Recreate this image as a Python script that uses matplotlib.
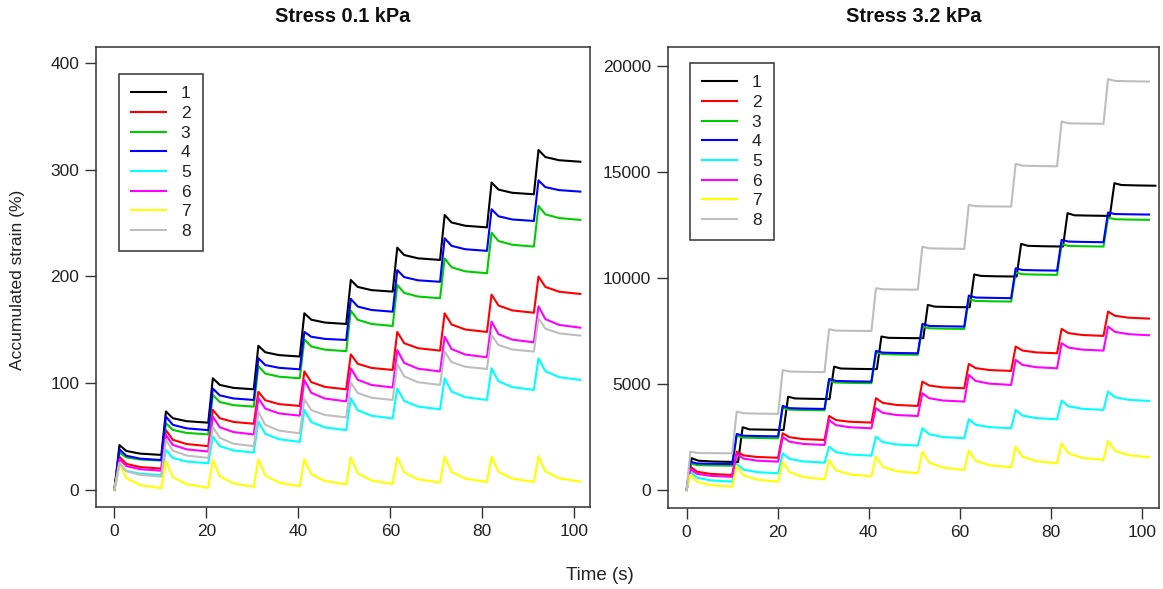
import matplotlib
matplotlib.use("Agg")
import matplotlib.pyplot as plt

plt.rcParams['font.family'] = ['Liberation Sans', 'DejaVu Sans']

labels = ['1', '2', '3', '4', '5', '6', '7', '8']
colors = ['black', '#FF0000', '#00CD00', '#0000FF', '#00FFFF', '#FF00FF', '#FFFF00', '#BEBEBE']

# ---- Stress 0.1 kPa
# per cycle: peak, value ~1.5 s after peak, value ~4.5 s after peak, value before next load
left_peak_t = [1.1, 11.2, 21.4, 31.3, 41.3, 51.4, 61.5, 71.8, 82.0, 92.2]
left_t_last = 101.3

left_peaks = [
    [42, 73.5, 104.6, 135, 165.5, 196.7, 227, 257.6, 288, 318.5],
    [31, 56, 75, 92, 111, 127, 148, 165.5, 183, 200],
    [35, 62.5, 89, 116, 141, 168, 192, 217, 241, 266],
    [38, 68.7, 95, 123.4, 148, 179, 206, 235.8, 263, 290],
    [23.4, 37.5, 50, 64, 75, 86, 95, 104.6, 114, 123.4],
    [28.7, 51.5, 68.7, 86, 103, 114, 131, 143.6, 157.7, 172],
    [25, 27, 28, 28.5, 28.7, 30.6, 30.6, 31.2, 31.2, 31.5],
    [25, 47, 59, 73, 85, 100.5, 118, 129.6, 145, 160.8],
]
left_knee_a = [
    [36.5, 67.2, 98.4, 129, 159.5, 190.2, 220.1, 250.6, 281.4, 311.9],
    [24.4, 47, 67.2, 84, 101, 118.2, 137.5, 155, 172.8, 190.2],
    [30.5, 56.2, 82.4, 109, 134.4, 159.4, 184.6, 208.6, 233.2, 258.2],
    [32, 61, 88.6, 117, 143.5, 171.8, 199.4, 228.7, 256.4, 283.7],
    [17.8, 30, 41, 52.6, 63.6, 74.6, 83.4, 92.2, 101.8, 111.2],
    [22.3, 42.2, 58.7, 76.2, 91, 103.2, 119, 132, 146, 160],
    [11, 12, 12.9, 13.6, 14.7, 15.6, 16.4, 17, 17, 17.3],
    [17.5, 36.8, 48.8, 61, 74.8, 90.8, 106.4, 119.8, 135.8, 151.1],
]
left_knee_b = [
    [34.0, 64.4, 95.6, 126.3, 156.8, 187.2, 217.0, 247.5, 278.4, 308.9],
    [21.4, 43.0, 63.7, 80.4, 96.5, 114.3, 132.8, 150.3, 168.2, 185.7],
    [28.5, 53.4, 79.4, 106.1, 131.4, 155.5, 181.2, 204.8, 229.7, 254.7],
    [29.3, 57.7, 85.7, 114.4, 141.5, 168.6, 196.4, 225.5, 253.4, 280.9],
    [15.2, 26.6, 37.0, 47.5, 58.5, 69.5, 78.1, 86.9, 96.3, 105.7],
    [19.4, 38.0, 54.2, 71.7, 85.6, 98.3, 113.6, 126.8, 140.8, 154.6],
    [4.6, 5.3, 6.1, 6.8, 8.3, 8.9, 10.0, 10.6, 10.6, 10.9],
    [14.1, 32.2, 43.3, 55.6, 70.2, 86.4, 100.9, 115.4, 131.6, 146.7],
]
left_ends = [
    [32.8, 63, 94.3, 125, 155.5, 185.8, 215.5, 246, 277, 307.5],
    [20, 41, 62, 78.7, 94.3, 112.4, 130.5, 148, 166, 183.6],
    [27.5, 52, 78, 104.6, 130, 153.6, 179.6, 203, 228, 253],
    [28, 56, 84.3, 113, 140.5, 167, 195, 224, 252, 279.5],
    [14, 25, 35, 45, 56, 67, 75.6, 84.3, 93.7, 103],
    [18, 36, 52, 69.6, 83, 96, 111, 124.3, 138.3, 152],
    [1.6, 2, 2.8, 3.6, 5.3, 5.6, 6.9, 7.5, 7.5, 7.8],
    [12.5, 30, 41, 53, 68, 84.3, 98.4, 113.3, 129.6, 144.6],
]

# ---- Stress 3.2 kPa (curve 1 is loaded about 1 s later in each cycle)
right_peak_t = [0.8, 11.0, 21.1, 31.3, 41.6, 51.8, 62.0, 72.3, 82.4, 92.6]
right_peak_t_1 = [1.1, 12.3, 22.3, 32.4, 42.8, 53.0, 63.2, 73.5, 83.7, 94.0]
right_t_last = 101.6
right_t_last_1 = 103.0

right_peaks = [
    [1500, 2960, 4400, 5820, 7240, 8732, 10170, 11610, 13060, 14475],
    [1100, 1808, 2675, 3490, 4330, 5112, 5947, 6765, 7600, 8417],
    [1250, 2560, 3870, 5150, 6480, 7700, 9000, 10260, 11600, 12850],
    [1336, 2643, 3965, 5240, 6560, 7835, 9170, 10460, 11800, 13090],
    [864, 1220, 1730, 2045, 2517, 2910, 3335, 3776, 4216, 4640],
    [977, 1700, 2500, 3304, 3855, 4564, 5430, 6136, 6925, 7710],
    [708, 1133, 1336, 1416, 1573, 1808, 1855, 2045, 2200, 2313],
    [1808, 3700, 5660, 7580, 9520, 11480, 13450, 15390, 17385, 19385],
]
right_knee_a = [
    [1380, 2860, 4320, 5730, 7180, 8650, 10100, 11520, 12960, 14390],
    [860, 1630, 2490, 3300, 4110, 4930, 5750, 6580, 7400, 8220],
    [1175, 2470, 3790, 5070, 6410, 7630, 8920, 10180, 11515, 12775],
    [1250, 2560, 3860, 5145, 6480, 7740, 9080, 10380, 11720, 13020],
    [580, 960, 1470, 1790, 2260, 2630, 3080, 3510, 3950, 4380],
    [760, 1480, 2280, 3060, 3640, 4330, 5145, 5900, 6720, 7460],
    [380, 690, 840, 930, 1100, 1290, 1380, 1570, 1730, 1850],
    [1750, 3620, 5590, 7520, 9470, 11400, 13390, 15300, 17300, 19300],
]
right_knee_b = [
    [1343, 2849, 4304, 5716, 7170, 8635, 10083, 11501, 12947, 14371],
    [759, 1557, 2401, 3220, 4012, 4841, 5660, 6491, 7313, 8129],
    [1160, 2456, 3774, 5054, 6393, 7613, 8904, 10164, 11500, 12759],
    [1235, 2545, 3841, 5129, 6464, 7726, 9066, 10364, 11704, 13007],
    [454, 843, 1347, 1675, 2148, 2501, 2965, 3392, 3833, 4257],
    [666, 1383, 2173, 2961, 3537, 4221, 5018, 5793, 6622, 7353],
    [229, 489, 611, 741, 889, 1056, 1172, 1362, 1518, 1643],
    [1740, 3604, 5573, 7510, 9459, 11389, 13380, 15286, 17289, 19285],
]
right_ends = [
    [1320, 2832, 4290, 5700, 7160, 8620, 10070, 11485, 12930, 14355],
    [708, 1520, 2360, 3180, 3965, 4800, 5617, 6450, 7270, 8086],
    [1147, 2440, 3760, 5040, 6380, 7600, 8890, 10150, 11485, 12745],
    [1220, 2530, 3823, 5112, 6450, 7710, 9050, 10350, 11690, 12995],
    [393, 787, 1290, 1620, 2093, 2440, 2910, 3335, 3776, 4200],
    [620, 1336, 2124, 2910, 3490, 4170, 4956, 5742, 6577, 7300],
    [157, 393, 503, 640, 787, 944, 1070, 1260, 1416, 1543],
    [1730, 3590, 5560, 7500, 9450, 11375, 13370, 15270, 17275, 19270],
]


def curve(peak_t, t_last, peaks, knee_a, knee_b, ends):
    # load ~1 s up to the peak, quick recovery, then slow recovery until next load
    t, v = [0.0], [0.0]
    n = len(peaks)
    for k in range(n):
        if k > 0:
            t.append(peak_t[k] - 1.0)
            v.append(ends[k - 1])
        t += [peak_t[k], peak_t[k] + 1.5, peak_t[k] + 4.5]
        v += [peaks[k], knee_a[k], knee_b[k]]
        t.append(peak_t[k + 1] - 1.0 if k < n - 1 else t_last)
        v.append(ends[k])
    return t, v


fig = plt.figure(figsize=(11.63, 5.89), dpi=100)
ax1 = fig.add_axes([96 / 1163, 82 / 589, 494 / 1163, 460 / 589])
ax2 = fig.add_axes([668 / 1163, 81 / 589, 491 / 1163, 461 / 589])

for i in range(8):
    t, v = curve(left_peak_t, left_t_last, left_peaks[i], left_knee_a[i],
                 left_knee_b[i], left_ends[i])
    ax1.plot(t, v, color=colors[i], lw=1.5, label=labels[i])
    if i == 0:
        pt, tl = right_peak_t_1, right_t_last_1
    else:
        pt, tl = right_peak_t, right_t_last
    t, v = curve(pt, tl, right_peaks[i], right_knee_a[i], right_knee_b[i], right_ends[i])
    ax2.plot(t, v, color=colors[i], lw=1.5, label=labels[i])

ax1.set_xlim(-4, 103.4)
ax1.set_ylim(-16, 415)
ax1.set_yticks([0, 100, 200, 300, 400])
ax2.set_xlim(-4.1, 103.8)
ax2.set_ylim(-850, 20900)
ax2.set_yticks([0, 5000, 10000, 15000, 20000])

titles = ['Stress 0.1 kPa', 'Stress 3.2 kPa']
anchors = [(0.0466, 0.941), (0.0448, 0.965)]
for ax, title, anchor in zip([ax1, ax2], titles, anchors):
    ax.set_xticks([0, 20, 40, 60, 80, 100])
    for s in ax.spines.values():
        s.set_color('#333333')
        s.set_linewidth(1.1)
    ax.tick_params(direction='out', length=8, width=1.0, color='#333333',
                   labelsize=12.5, labelcolor='#222222', pad=4)
    bb = ax.get_position()
    fig.text((bb.x0 + bb.x1) / 2, 1 - 17 / 589, title, ha='center', va='center',
             fontsize=14.4, fontweight='bold', color='#111111')
    leg = ax.legend(loc='upper left', bbox_to_anchor=anchor, fontsize=12.5,
                    handlelength=2.0, handletextpad=0.86, labelspacing=0.26,
                    borderpad=0.7, borderaxespad=0, fancybox=False, framealpha=1)
    leg.get_frame().set_edgecolor('#333333')
    leg.get_frame().set_linewidth(1.1)
    for txt in leg.get_texts():
        txt.set_color('#222222')

fig.text(600 / 1163, 1 - 575 / 589, 'Time (s)', ha='center', va='center',
         fontsize=13.5, color='#222222')
fig.text(18 / 1163, 1 - 280 / 589, 'Accumulated strain (%)', ha='center', va='center',
         rotation=90, fontsize=12.5, color='#222222')

fig.savefig('out.png', dpi=100)
